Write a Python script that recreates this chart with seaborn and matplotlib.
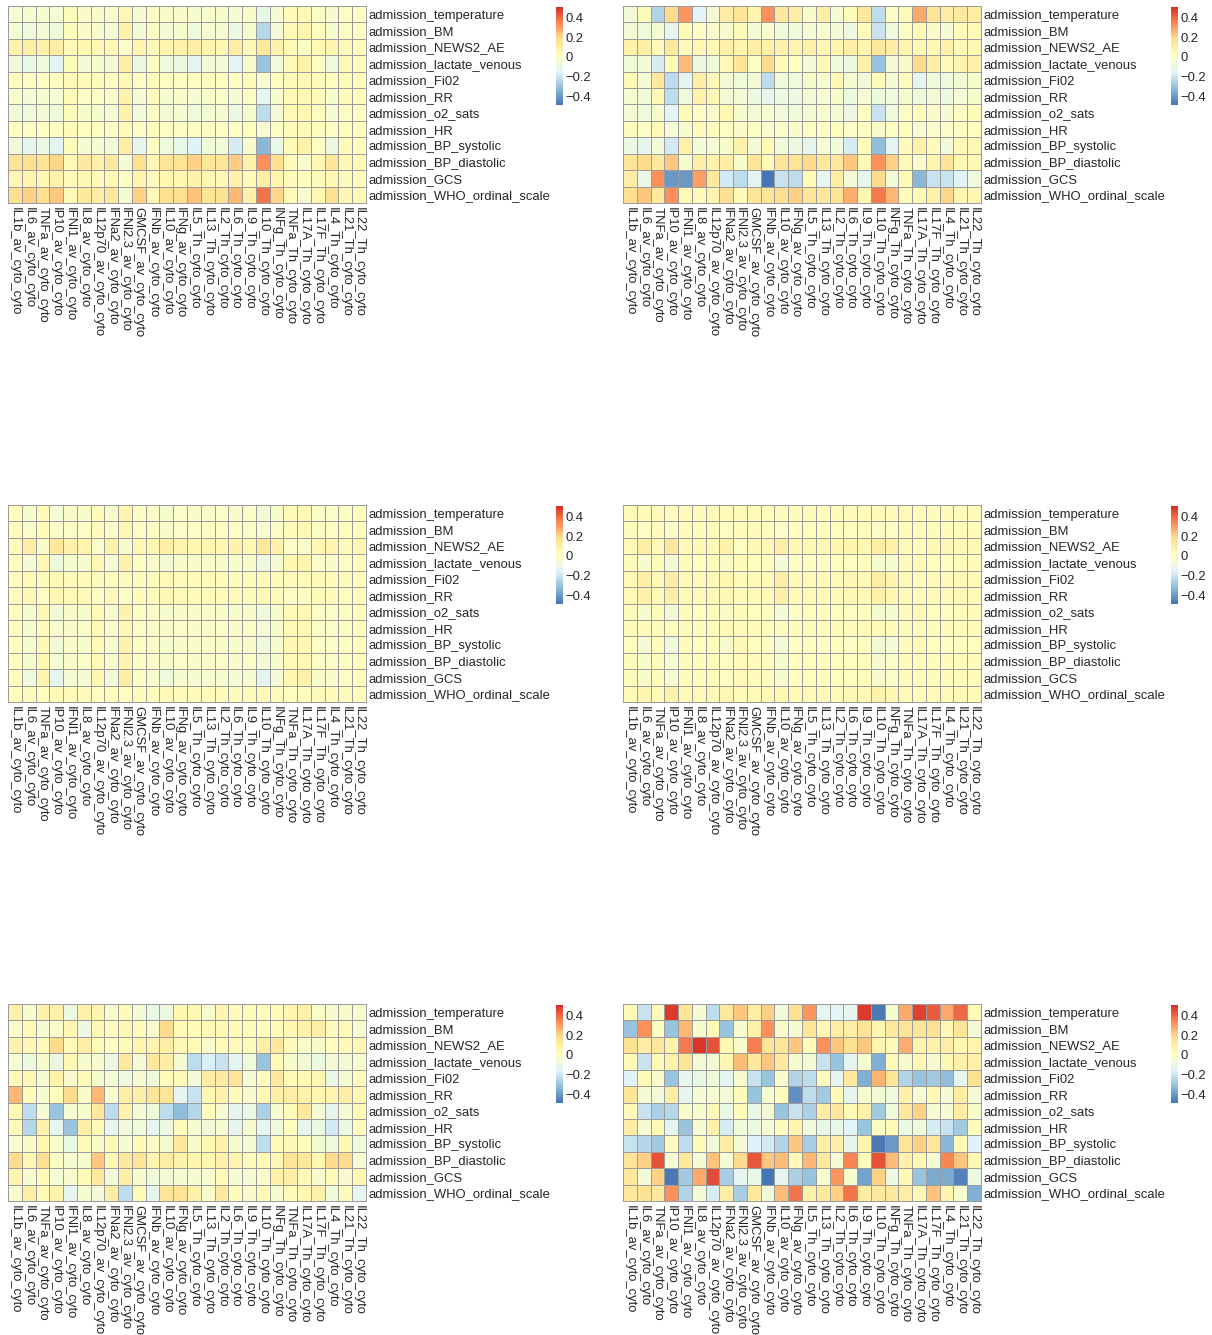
import numpy as np
import pandas as pd
import matplotlib
matplotlib.use("Agg")
import matplotlib.pyplot as plt
import seaborn as sns
from matplotlib.colors import LinearSegmentedColormap

cytokines = [
    "IL1b_av_cyto_cyto", "IL6_av_cyto_cyto", "TNFa_av_cyto_cyto", "IP10_av_cyto_cyto",
    "IFNl1_av_cyto_cyto", "IL8_av_cyto_cyto", "IL12p70_av_cyto_cyto", "IFNa2_av_cyto_cyto",
    "IFNl2.3_av_cyto_cyto", "GMCSF_av_cyto_cyto", "IFNb_av_cyto_cyto", "IL10_av_cyto_cyto",
    "IFNg_av_cyto_cyto", "IL5_Th_cyto_cyto", "IL13_Th_cyto_cyto", "IL2_Th_cyto_cyto",
    "IL6_Th_cyto_cyto", "IL9_Th_cyto_cyto", "IL10_Th_cyto_cyto", "INFg_Th_cyto_cyto",
    "TNFa_Th_cyto_cyto", "IL17A_Th_cyto_cyto", "IL17F_Th_cyto_cyto", "IL4_Th_cyto_cyto",
    "IL21_Th_cyto_cyto", "IL22_Th_cyto_cyto",
]

clinical = [
    "admission_temperature", "admission_BM", "admission_NEWS2_AE", "admission_lactate_venous",
    "admission_Fi02", "admission_RR", "admission_o2_sats", "admission_HR",
    "admission_BP_systolic", "admission_BP_diastolic", "admission_GCS",
    "admission_WHO_ordinal_scale",
]

panel1 = [
    [-0.04, -0.03, -0.03, -0.04, 0.02, -0.02, -0.02, -0.03, 0.04, -0.04, 0.0, -0.02, -0.02, -0.03, -0.03, -0.02, -0.04, -0.02, -0.1, -0.04, 0.02, 0.03, 0.0, -0.03, 0.0, 0.0],
    [-0.04, -0.07, -0.05, -0.07, 0.02, -0.02, -0.02, -0.04, 0.08, -0.05, 0.0, -0.04, -0.03, -0.07, -0.03, -0.03, -0.08, -0.02, -0.24, -0.05, 0.03, 0.06, 0.01, -0.03, 0.0, 0.0],
    [0.07, 0.09, 0.08, 0.1, 0.03, 0.05, 0.04, 0.05, -0.01, 0.06, 0.03, 0.06, 0.07, 0.09, 0.06, 0.05, 0.1, 0.04, 0.13, 0.07, 0.03, 0.0, 0.03, 0.06, 0.03, 0.02],
    [-0.07, -0.1, -0.07, -0.13, 0.02, -0.05, -0.03, -0.05, 0.1, -0.09, 0.0, -0.06, -0.08, -0.13, -0.05, -0.05, -0.14, -0.03, -0.3, -0.07, 0.03, 0.07, 0.0, -0.07, 0.02, 0.01],
    [0.02, 0.0, 0.0, 0.0, 0.03, 0.02, 0.02, 0.01, 0.04, 0.0, 0.02, 0.0, 0.0, 0.0, 0.01, 0.01, 0.0, 0.02, -0.03, 0.01, 0.03, 0.03, 0.02, 0.01, 0.02, 0.02],
    [-0.02, -0.04, -0.03, -0.04, 0.03, -0.01, 0.0, -0.02, 0.07, -0.04, 0.01, -0.03, -0.02, -0.04, -0.02, -0.01, -0.05, 0.0, -0.12, -0.03, 0.03, 0.05, 0.02, -0.02, 0.02, 0.02],
    [-0.05, -0.07, -0.05, -0.07, 0.02, -0.03, -0.02, -0.04, 0.07, -0.06, 0.0, -0.05, -0.04, -0.07, -0.04, -0.03, -0.08, -0.02, -0.22, -0.05, 0.03, 0.05, 0.01, -0.04, 0.0, 0.0],
    [0.01, 0.0, 0.0, 0.0, 0.02, 0.01, 0.01, 0.0, 0.03, 0.0, 0.01, 0.0, 0.0, 0.0, 0.0, 0.0, 0.0, 0.01, -0.03, 0.0, 0.02, 0.03, 0.01, 0.0, 0.01, 0.01],
    [-0.07, -0.12, -0.08, -0.13, 0.02, -0.04, -0.03, -0.06, 0.1, -0.12, 0.0, -0.07, -0.1, -0.15, -0.06, -0.06, -0.17, -0.03, -0.33, -0.1, 0.03, 0.08, 0.0, -0.09, 0.02, 0.01],
    [0.15, 0.17, 0.15, 0.19, 0.03, 0.12, 0.08, 0.12, -0.04, 0.17, 0.05, 0.14, 0.15, 0.2, 0.13, 0.14, 0.21, 0.07, 0.33, 0.17, 0.02, -0.03, 0.05, 0.14, 0.04, 0.03],
    [0.05, 0.06, 0.05, 0.07, 0.02, 0.04, 0.03, 0.04, 0.0, 0.06, 0.02, 0.05, 0.05, 0.07, 0.04, 0.04, 0.08, 0.03, 0.1, 0.06, 0.02, 0.01, 0.02, 0.05, 0.02, 0.02],
    [0.17, 0.2, 0.17, 0.22, 0.03, 0.13, 0.09, 0.13, -0.04, 0.2, 0.05, 0.16, 0.17, 0.23, 0.15, 0.16, 0.25, 0.08, 0.38, 0.19, 0.03, -0.03, 0.05, 0.16, 0.04, 0.03],
]

panel2 = [
    [-0.05, 0.03, -0.25, 0.18, 0.32, -0.14, -0.05, 0.1, 0.15, 0.06, 0.33, 0.12, 0.1, -0.02, 0.1, -0.04, 0.02, 0.12, -0.22, 0.0, 0.03, 0.28, 0.15, 0.1, 0.12, 0.1],
    [-0.05, -0.07, -0.04, -0.12, 0.03, 0.0, -0.02, -0.03, 0.03, -0.05, -0.02, -0.06, -0.06, -0.04, -0.03, -0.05, -0.08, 0.02, -0.2, -0.07, 0.0, 0.03, -0.02, -0.04, 0.02, 0.03],
    [0.07, 0.09, 0.03, 0.12, 0.03, 0.05, 0.04, 0.07, 0.06, 0.09, 0.08, 0.08, 0.06, 0.08, 0.05, 0.06, 0.09, 0.06, 0.12, 0.1, 0.06, 0.04, 0.05, 0.08, 0.03, 0.05],
    [-0.06, -0.05, -0.17, 0.03, 0.24, -0.08, -0.06, 0.03, 0.14, 0.0, 0.18, 0.03, 0.01, -0.05, 0.04, -0.06, -0.08, 0.08, -0.3, -0.05, -0.02, 0.18, 0.1, 0.03, 0.06, 0.08],
    [0.03, -0.04, 0.12, -0.22, -0.13, 0.1, 0.04, -0.05, -0.06, -0.05, -0.22, -0.06, -0.07, -0.02, -0.03, 0.04, -0.04, -0.06, 0.02, -0.05, 0.01, -0.13, -0.06, -0.07, -0.05, -0.02],
    [-0.03, -0.06, 0.04, -0.22, -0.07, 0.07, 0.04, -0.05, -0.05, -0.08, -0.12, -0.08, -0.08, -0.05, -0.04, -0.02, -0.08, -0.04, -0.08, -0.07, -0.03, -0.06, -0.05, -0.08, -0.04, -0.02],
    [-0.04, -0.07, -0.03, -0.14, 0.03, 0.0, -0.02, 0.04, -0.03, -0.05, -0.03, -0.06, -0.06, -0.05, -0.03, -0.05, -0.09, 0.0, -0.2, -0.07, 0.0, 0.02, -0.02, -0.04, 0.0, 0.02],
    [0.02, -0.01, 0.03, -0.04, -0.02, 0.03, 0.02, 0.0, -0.02, 0.0, -0.03, -0.01, -0.02, 0.0, 0.0, 0.01, -0.01, 0.0, -0.02, 0.0, 0.01, -0.03, -0.01, -0.01, 0.0, 0.01],
    [-0.08, -0.12, -0.06, -0.18, 0.08, -0.04, -0.04, -0.02, 0.07, -0.05, 0.03, -0.06, -0.08, -0.12, -0.04, -0.06, -0.17, 0.02, -0.32, -0.13, 0.02, 0.08, 0.02, -0.06, 0.03, 0.04],
    [0.15, 0.18, 0.12, 0.22, -0.03, 0.09, 0.07, 0.1, -0.02, 0.14, 0.03, 0.14, 0.15, 0.18, 0.12, 0.13, 0.22, 0.04, 0.33, 0.2, 0.03, -0.02, 0.06, 0.15, 0.04, 0.04],
    [0.1, -0.1, 0.33, -0.4, -0.4, 0.3, 0.12, -0.18, -0.22, -0.13, -0.48, -0.2, -0.22, 0.02, -0.12, 0.1, -0.05, -0.12, 0.18, -0.05, 0.03, -0.33, -0.2, -0.2, -0.15, -0.07],
    [0.17, 0.22, 0.12, 0.33, 0.03, 0.03, 0.06, 0.16, 0.02, 0.14, 0.14, 0.17, 0.2, 0.14, 0.12, 0.15, 0.27, 0.05, 0.37, 0.25, 0.02, 0.03, 0.07, 0.19, 0.05, 0.05],
]

panel3 = [
    [0.02, -0.02, 0.03, -0.04, -0.02, -0.02, 0.02, -0.02, 0.06, 0.0, -0.01, -0.03, -0.01, -0.02, -0.01, -0.01, -0.02, -0.01, -0.05, -0.02, 0.03, 0.04, 0.0, -0.01, 0.0, 0.01],
    [0.02, -0.01, 0.03, -0.02, -0.01, -0.01, 0.02, -0.01, 0.04, 0.0, 0.0, -0.02, -0.01, -0.01, 0.0, 0.0, -0.01, -0.01, -0.03, -0.01, 0.02, 0.03, 0.0, 0.0, 0.01, 0.01],
    [0.03, 0.1, -0.02, 0.12, 0.07, 0.06, -0.01, 0.07, -0.03, 0.04, 0.05, 0.09, 0.06, 0.05, 0.04, 0.05, 0.07, 0.04, 0.13, 0.07, -0.01, -0.02, 0.04, 0.06, 0.02, 0.04],
    [0.02, -0.04, 0.05, -0.07, -0.03, -0.03, 0.04, -0.04, 0.08, 0.0, -0.02, -0.05, -0.02, -0.03, -0.02, -0.02, -0.03, -0.02, -0.08, -0.04, 0.04, 0.06, -0.01, -0.02, 0.0, 0.01],
    [0.02, 0.03, 0.02, 0.03, 0.02, 0.02, 0.02, 0.02, 0.02, 0.02, 0.02, 0.03, 0.02, 0.02, 0.02, 0.02, 0.02, 0.02, 0.03, 0.02, 0.02, 0.02, 0.02, 0.02, 0.02, 0.02],
    [0.02, 0.04, 0.0, 0.05, 0.03, 0.03, 0.0, 0.03, 0.0, 0.02, 0.02, 0.04, 0.03, 0.02, 0.02, 0.02, 0.03, 0.02, 0.05, 0.03, 0.0, 0.0, 0.02, 0.02, 0.01, 0.02],
    [0.02, -0.03, 0.04, -0.05, -0.02, -0.02, 0.03, -0.03, 0.07, 0.0, -0.01, -0.03, -0.02, -0.02, -0.01, -0.02, -0.03, -0.02, -0.06, -0.03, 0.03, 0.05, 0.0, -0.01, 0.0, 0.01],
    [0.02, -0.02, 0.03, -0.03, -0.02, -0.01, 0.03, -0.02, 0.05, 0.0, -0.01, -0.02, -0.01, -0.02, -0.01, -0.01, -0.02, -0.01, -0.04, -0.02, 0.03, 0.04, 0.0, -0.01, 0.0, 0.01],
    [0.02, -0.03, 0.04, -0.05, -0.02, -0.02, 0.03, -0.03, 0.07, 0.0, -0.01, -0.03, -0.02, -0.02, -0.01, -0.02, -0.03, -0.02, -0.06, -0.03, 0.04, 0.05, 0.0, -0.01, 0.0, 0.01],
    [0.02, -0.02, 0.04, -0.04, -0.02, -0.01, 0.03, -0.02, 0.06, 0.0, -0.01, -0.02, -0.01, -0.02, -0.01, -0.01, -0.02, -0.01, -0.05, -0.02, 0.03, 0.05, 0.0, -0.01, 0.0, 0.01],
    [0.02, -0.07, 0.06, -0.12, -0.04, -0.04, 0.05, -0.06, 0.1, 0.0, -0.03, -0.07, -0.03, -0.04, -0.03, -0.03, -0.04, -0.03, -0.13, -0.05, 0.05, 0.08, -0.02, -0.03, 0.0, 0.01],
    [0.02, 0.02, 0.01, 0.03, 0.02, 0.02, 0.01, 0.02, 0.01, 0.02, 0.02, 0.02, 0.02, 0.02, 0.02, 0.02, 0.02, 0.02, 0.03, 0.02, 0.01, 0.01, 0.02, 0.02, 0.02, 0.02],
]

panel4 = [
    [0.03, 0.02, 0.03, 0.02, 0.03, 0.02, 0.03, 0.02, 0.03, 0.03, 0.02, 0.02, 0.02, 0.02, 0.02, 0.02, 0.02, 0.02, 0.02, 0.02, 0.03, 0.02, 0.02, 0.02, 0.02, 0.02],
    [0.02, -0.01, 0.02, -0.01, 0.02, 0.02, 0.02, 0.0, 0.02, 0.02, 0.01, -0.01, 0.01, 0.01, 0.01, 0.01, 0.01, 0.02, -0.01, 0.0, 0.02, 0.02, 0.02, 0.02, 0.02, 0.02],
    [0.03, 0.1, 0.03, 0.12, 0.03, 0.04, 0.03, 0.07, 0.0, 0.04, 0.04, 0.1, 0.04, 0.04, 0.04, 0.04, 0.06, 0.04, 0.1, 0.08, 0.03, 0.01, 0.04, 0.04, 0.03, 0.04],
    [0.02, -0.03, 0.02, -0.05, 0.02, 0.01, 0.02, -0.02, 0.03, 0.01, 0.01, -0.04, 0.0, 0.0, 0.0, 0.01, 0.0, 0.01, -0.04, -0.03, 0.02, 0.03, 0.01, 0.01, 0.02, 0.02],
    [0.03, 0.09, 0.03, 0.1, 0.03, 0.03, 0.03, 0.05, 0.02, 0.03, 0.03, 0.1, 0.03, 0.03, 0.03, 0.03, 0.05, 0.03, 0.1, 0.06, 0.03, 0.02, 0.03, 0.03, 0.03, 0.03],
    [0.03, 0.08, 0.03, 0.09, 0.03, 0.03, 0.03, 0.04, 0.02, 0.03, 0.03, 0.09, 0.03, 0.03, 0.03, 0.03, 0.04, 0.03, 0.08, 0.05, 0.03, 0.02, 0.03, 0.03, 0.03, 0.03],
    [0.02, -0.03, 0.02, -0.05, 0.02, 0.01, 0.02, -0.02, 0.03, 0.01, 0.01, -0.04, 0.0, 0.01, 0.01, 0.01, 0.0, 0.01, -0.04, -0.03, 0.02, 0.03, 0.01, 0.01, 0.02, 0.02],
    [0.02, 0.02, 0.02, 0.02, 0.02, 0.02, 0.02, 0.02, 0.02, 0.02, 0.02, 0.02, 0.02, 0.02, 0.02, 0.02, 0.02, 0.02, 0.02, 0.02, 0.02, 0.02, 0.02, 0.02, 0.02, 0.02],
    [0.01, -0.05, 0.02, -0.07, 0.02, 0.01, 0.01, -0.03, 0.04, 0.01, 0.0, -0.05, 0.0, 0.0, 0.0, 0.01, -0.01, 0.01, -0.05, -0.04, 0.02, 0.03, 0.01, 0.0, 0.01, 0.01],
    [0.02, -0.02, 0.02, -0.03, 0.02, 0.02, 0.02, 0.0, 0.03, 0.02, 0.01, -0.02, 0.01, 0.01, 0.01, 0.01, 0.01, 0.02, -0.03, -0.01, 0.02, 0.02, 0.02, 0.02, 0.02, 0.02],
    [0.02, -0.02, 0.02, -0.03, 0.02, 0.02, 0.02, 0.0, 0.03, 0.02, 0.01, -0.02, 0.01, 0.01, 0.01, 0.01, 0.01, 0.02, -0.03, -0.01, 0.02, 0.02, 0.02, 0.02, 0.02, 0.02],
    [0.03, 0.06, 0.03, 0.07, 0.03, 0.03, 0.03, 0.04, 0.02, 0.03, 0.03, 0.05, 0.03, 0.03, 0.03, 0.03, 0.04, 0.03, 0.07, 0.04, 0.03, 0.02, 0.03, 0.03, 0.03, 0.03],
]

panel5 = [
    [0.08, -0.03, 0.07, 0.08, -0.08, 0.08, 0.06, -0.02, 0.02, -0.05, -0.1, -0.08, 0.05, 0.04, -0.03, 0.06, 0.02, 0.02, 0.02, 0.02, 0.06, 0.08, -0.01, -0.03, -0.02, -0.03],
    [-0.02, 0.03, -0.04, -0.02, 0.05, -0.08, 0.04, 0.02, 0.04, 0.02, -0.02, 0.18, 0.03, 0.02, 0.03, 0.05, 0.03, 0.02, 0.02, 0.03, 0.04, 0.07, 0.1, 0.02, 0.03, -0.03],
    [0.07, 0.05, 0.02, 0.18, 0.03, 0.1, 0.03, 0.01, 0.03, 0.06, 0.06, 0.1, 0.04, 0.03, -0.02, 0.03, 0.03, 0.02, 0.09, 0.12, 0.02, -0.02, -0.02, 0.01, 0.03, 0.04],
    [-0.04, -0.08, -0.02, -0.09, 0.04, -0.03, -0.03, -0.08, 0.12, -0.04, 0.12, 0.1, -0.05, -0.22, -0.16, -0.2, -0.13, -0.07, -0.3, 0.03, -0.02, -0.05, -0.08, -0.05, -0.05, -0.03],
    [0.03, 0.05, -0.04, 0.07, -0.03, 0.03, -0.02, -0.04, -0.07, -0.03, -0.06, 0.02, 0.03, -0.06, 0.1, 0.12, 0.15, -0.04, 0.02, 0.12, 0.03, 0.03, 0.05, -0.1, -0.04, 0.02],
    [0.25, 0.02, -0.03, 0.02, 0.18, -0.02, 0.25, -0.03, 0.1, 0.09, 0.14, 0.15, -0.12, -0.2, 0.04, 0.08, 0.02, -0.03, 0.04, 0.09, 0.1, 0.08, 0.05, 0.06, 0.1, 0.04],
    [0.05, -0.22, -0.04, -0.3, -0.03, -0.02, 0.12, -0.22, 0.07, -0.04, -0.06, -0.22, -0.32, -0.24, 0.02, -0.03, -0.12, -0.1, -0.26, -0.03, 0.02, 0.12, -0.04, -0.12, -0.04, 0.03],
    [0.03, -0.24, 0.08, -0.12, -0.3, 0.1, 0.03, -0.12, -0.06, -0.06, -0.12, -0.08, 0.02, -0.04, -0.06, -0.03, -0.12, -0.03, -0.12, -0.07, 0.01, -0.12, -0.08, -0.18, -0.08, 0.02],
    [-0.03, -0.02, 0.05, -0.02, -0.1, 0.02, -0.02, 0.04, -0.04, 0.02, 0.0, -0.03, 0.12, -0.02, 0.04, 0.08, -0.03, -0.04, -0.22, 0.02, 0.05, 0.02, -0.04, -0.07, 0.04, -0.06],
    [0.18, 0.05, 0.17, 0.0, -0.03, -0.03, 0.22, 0.04, 0.12, 0.15, 0.06, 0.1, 0.07, 0.06, 0.04, 0.08, 0.06, 0.02, 0.03, 0.04, 0.15, 0.12, 0.05, 0.18, 0.18, -0.04],
    [0.06, -0.03, 0.03, -0.04, -0.03, 0.03, 0.12, -0.06, 0.1, -0.03, -0.06, -0.05, -0.03, -0.04, -0.03, 0.03, -0.03, -0.04, -0.02, 0.07, 0.1, 0.03, -0.03, 0.03, -0.03, 0.04],
    [-0.02, 0.1, 0.03, 0.07, -0.12, -0.03, -0.06, 0.1, -0.22, 0.03, -0.12, 0.15, 0.15, 0.07, -0.02, 0.12, 0.02, -0.02, 0.03, -0.03, 0.02, 0.05, 0.08, -0.06, 0.02, -0.12],
]

panel6 = [
    [0.03, -0.2, 0.03, 0.48, 0.14, -0.04, -0.22, 0.12, 0.22, 0.1, 0.2, -0.06, 0.16, 0.32, -0.12, -0.14, -0.12, 0.48, -0.47, -0.03, 0.28, 0.47, 0.42, 0.28, 0.4, 0.03],
    [-0.3, 0.33, 0.0, -0.3, 0.25, -0.03, 0.03, -0.3, -0.02, 0.08, 0.33, -0.02, -0.04, 0.14, 0.05, 0.1, 0.1, 0.15, 0.05, 0.12, 0.15, 0.14, 0.16, 0.04, 0.14, -0.05],
    [0.16, 0.1, 0.13, 0.07, 0.37, 0.49, 0.44, 0.05, -0.02, 0.36, 0.14, 0.14, 0.22, 0.03, 0.33, 0.22, 0.16, 0.22, 0.06, 0.03, 0.27, 0.07, 0.08, 0.1, 0.05, 0.06],
    [0.03, -0.2, 0.03, 0.07, 0.15, -0.05, -0.05, 0.04, 0.24, 0.12, 0.22, 0.12, -0.03, -0.05, -0.2, -0.3, -0.12, -0.03, -0.35, 0.03, -0.03, 0.05, -0.03, 0.04, 0.08, 0.08],
    [-0.15, 0.03, -0.03, -0.3, -0.12, -0.1, -0.06, -0.13, -0.03, -0.2, -0.3, -0.03, -0.25, -0.22, 0.02, -0.12, 0.12, -0.35, 0.26, 0.14, -0.25, -0.3, -0.28, -0.32, -0.12, 0.16],
    [0.14, -0.04, -0.06, 0.1, -0.12, -0.04, -0.03, -0.05, 0.02, -0.3, -0.03, 0.02, -0.42, -0.22, -0.28, 0.03, -0.12, -0.03, -0.05, -0.07, 0.08, -0.04, 0.04, -0.05, 0.1, -0.05],
    [0.03, -0.2, -0.26, -0.24, -0.02, -0.03, 0.03, -0.1, 0.02, -0.1, -0.05, -0.3, -0.2, -0.26, 0.1, 0.12, 0.03, 0.08, -0.28, -0.06, 0.12, 0.2, -0.03, -0.04, 0.1, -0.02],
    [0.1, -0.04, 0.03, -0.13, -0.3, -0.04, 0.08, -0.17, -0.06, -0.08, -0.04, 0.02, 0.06, -0.06, -0.1, -0.1, -0.14, -0.3, 0.0, 0.03, -0.08, -0.06, -0.17, -0.2, -0.28, 0.02],
    [-0.2, -0.24, -0.28, 0.02, -0.22, 0.02, -0.06, 0.1, -0.05, -0.15, -0.18, -0.25, 0.22, -0.27, 0.1, 0.1, -0.12, 0.06, -0.47, -0.4, 0.15, 0.2, 0.12, -0.33, 0.03, -0.15],
    [0.15, 0.2, 0.44, -0.04, 0.13, -0.04, 0.23, -0.04, 0.18, 0.43, 0.22, 0.24, 0.03, 0.25, 0.12, -0.04, 0.35, 0.02, 0.44, 0.24, 0.08, 0.05, -0.04, 0.35, 0.22, 0.04],
    [0.13, -0.05, 0.2, -0.47, -0.28, 0.28, 0.45, -0.27, -0.12, -0.1, -0.48, -0.12, -0.26, -0.3, -0.03, 0.32, -0.03, -0.38, 0.2, -0.08, 0.04, -0.3, -0.36, -0.36, -0.45, -0.08],
    [0.13, 0.16, 0.12, 0.33, -0.25, -0.05, -0.17, 0.1, -0.27, 0.13, -0.06, 0.24, 0.38, 0.08, 0.12, 0.2, 0.38, 0.1, 0.12, 0.13, 0.1, 0.05, 0.23, 0.06, -0.03, -0.35],
]

W, H = 1212, 1335
sns.set_theme(style="white")
plt.rcParams["font.family"] = ["Liberation Sans", "DejaVu Sans"]
plt.rcParams["axes.unicode_minus"] = True

cmap = LinearSegmentedColormap.from_list(
    "rdylbu_rev",
    ["#4575B4", "#91BFDB", "#E0F3F8", "#FFFFBF", "#FEE090", "#FC8D59", "#D73027"],
    N=100,
)
VMIN, VMAX = -0.485, 0.505
FS = 9.4


def rect(x0, y0, x1, y1):
    return [x0 / W, 1 - y1 / H, (x1 - x0) / W, (y1 - y0) / H]


fig = plt.figure(figsize=(W / 100, H / 100), dpi=100)

panels = [panel1, panel2, panel3, panel4, panel5, panel6]
origins = [(8, 6), (623, 6), (8, 505), (623, 505), (8, 1004), (623, 1004)]

for data, (x0, y0) in zip(panels, origins):
    ax = fig.add_axes(rect(x0, y0, x0 + 358, y0 + 197))
    cax = fig.add_axes(rect(x0 + 548, y0 + 1, x0 + 555, y0 + 99))
    df = pd.DataFrame(data, index=clinical, columns=cytokines)
    sns.heatmap(
        df, ax=ax, cbar_ax=cax, cmap=cmap, vmin=VMIN, vmax=VMAX,
        linewidths=0.7, linecolor="#9c9c9c",
        xticklabels=True, yticklabels=True,
    )
    ax.collections[0].set_clip_on(False)
    ax.yaxis.tick_right()
    ax.tick_params(axis="y", length=0, pad=2, labelsize=FS)
    ax.tick_params(axis="x", length=0, pad=3, labelsize=FS)
    for lab in ax.get_xticklabels():
        lab.set_rotation(270)
        lab.set_ha("center")
        lab.set_va("top")
    for lab in ax.get_yticklabels():
        lab.set_rotation(0)
        lab.set_ha("left")
        lab.set_va("center_baseline")
    ax.set_xlabel("")
    ax.set_ylabel("")

    cb = ax.collections[0].colorbar
    cb.outline.set_visible(False)
    cb.set_ticks([-0.4, -0.2, 0, 0.2, 0.4])
    cb.set_ticklabels(["\u22120.4", "\u22120.2", "0", "0.2", "0.4"])
    cax.tick_params(length=0, pad=2, labelsize=FS)
    for lab in cax.get_yticklabels():
        lab.set_va("center_baseline")

fig.savefig("out.png", dpi=100)
